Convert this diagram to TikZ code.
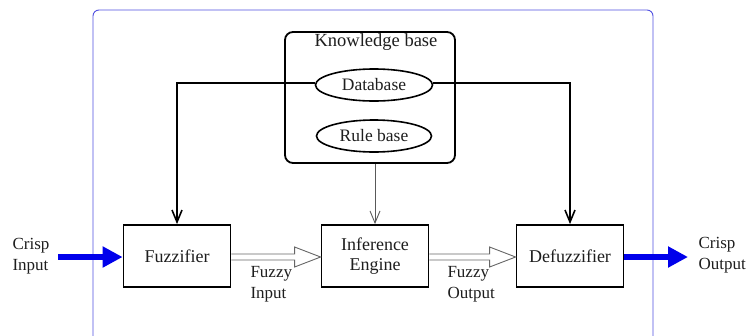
\documentclass[tikz,border=0pt]{standalone}
\usepackage{fontspec}
\setmainfont{Liberation Serif}
\usetikzlibrary{arrows.meta,shapes.geometric,calc}
\definecolor{frameblue}{RGB}{80,80,225}
\definecolor{arrowblue}{RGB}{0,0,235}
\definecolor{txt}{RGB}{30,30,30}
\begin{document}
\begin{tikzpicture}[x=1pt,y=-1pt,
  txtstyle/.style={text=txt,font=\fontsize{17}{21}\selectfont},
  block/.style={draw=black,line width=1.8pt,fill=white,minimum width=107pt,minimum height=62pt,inner sep=0pt,align=center,txtstyle,font=\fontsize{18}{20}\selectfont},
  oval/.style={draw=black,line width=1.6pt,ellipse,minimum width=117pt,minimum height=32pt,inner sep=0pt,txtstyle,font=\fontsize{17.5}{20}\selectfont},
  kbbox/.style={draw=black,line width=1.8pt,rounded corners=8pt,minimum width=170pt,minimum height=131pt,inner sep=0pt},
  dbarrow/.style={draw=black,line width=1.6pt,-{Straight Barb[length=12pt,width=10pt]}},
  rbarrow/.style={draw=black!65,line width=0.9pt,-{Straight Barb[length=12pt,width=10pt]}},
  hollow/.style={draw=black!60,line width=0.9pt,line join=miter},
  bluearrow/.style={draw=arrowblue,line width=6pt,-{Triangle[length=20pt,width=20pt]}},
  lbl/.style={txtstyle,align=left,anchor=west}
]
\useasboundingbox (0,0) rectangle (749,335);
\fill[white] (0,0) rectangle (749,335);
\begin{scope}
\clip (0,0) rectangle (749,335);
\draw[frameblue,line width=0.9pt,rounded corners=6pt] (93,345) -- (93,10) -- (653,10) -- (653,345);
\end{scope}

% knowledge base
\node[kbbox] (kb) at (370,97.5) {};
\node[txtstyle,font=\fontsize{18.5}{20}\selectfont] (kbt) at (376,42) {Knowledge base};
\node[oval] (db) at (374,85) {Database};
\node[oval,minimum width=115pt] (rb) at (374,136) {Rule base};

% blocks
\node[block] (fz) at (177,256) {Fuzzifier};
\node[block] (ie) at (375,256) {Inference\\Engine};
\node[block] (df) at (570,256) {Defuzzifier};

% database connectors
\draw[dbarrow] (db.178) -| (fz.north);
\draw[dbarrow] (db.2) -| (df.north);
% rule base connector
\draw[rbarrow] (kb.south -| ie.north) -- (ie.north);

% hollow arrows
\draw[hollow] ($(fz.east)+(0,-2)$) -- ($(ie.west)+(-26,-2)$) -- ($(ie.west)+(-26,-9)$) -- ($(ie.west)+(0,1)$) -- ($(ie.west)+(-26,11)$) -- ($(ie.west)+(-26,4)$) -- ($(fz.east)+(0,4)$);
\draw[hollow] ($(ie.east)+(0,-2)$) -- ($(df.west)+(-26,-2)$) -- ($(df.west)+(-26,-9)$) -- ($(df.west)+(0,1)$) -- ($(df.west)+(-26,11)$) -- ($(df.west)+(-26,4)$) -- ($(ie.east)+(0,4)$);

% crisp in/out
\coordinate (cin) at (58,257);
\coordinate (cout) at (688,257);
\draw[bluearrow] (cin) -- (cin -| fz.west);
\draw[bluearrow] (cout -| df.east) -- (cout);

% labels
\node[lbl] (lci) at (9,256) {Crisp\\Input};
\node[lbl] (lco) at (695,255) {Crisp\\Output};
\node[lbl] (lfi) at (247,284) {Fuzzy\\Input};
\node[lbl] (lfo) at (444,284) {Fuzzy\\Output};
\end{tikzpicture}
\end{document}
